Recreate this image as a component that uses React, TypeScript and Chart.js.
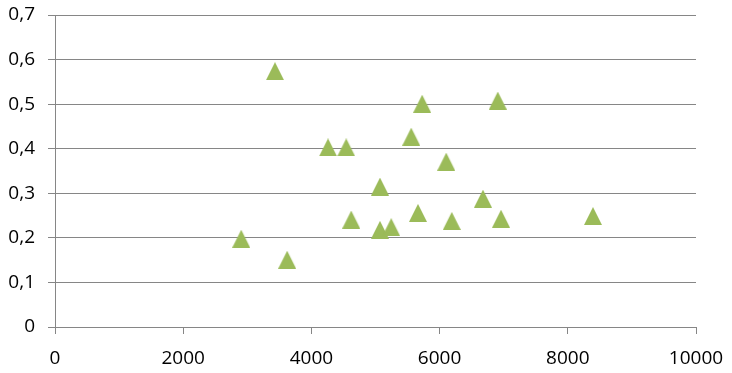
import React, { useEffect, useRef } from "react";
import { Chart, registerables } from "chart.js";

Chart.register(...registerables);

const xValues = [2905, 3432, 3622, 4259, 4543, 4621, 5070, 5070, 5245, 5557, 5663, 5728, 6103, 6190, 6677, 6908, 6958, 8393];
const yValues = [0.198, 0.574, 0.151, 0.403, 0.403, 0.241, 0.315, 0.218, 0.224, 0.427, 0.256, 0.501, 0.371, 0.238, 0.288, 0.508, 0.243, 0.249];
const xTickLabels = ["0", "2000", "4000", "6000", "8000", "10000"];
const yTickLabels = ["0", "0,1", "0,2", "0,3", "0,4", "0,5", "0,6", "0,7"];

const GREEN = "#9BBB59";
const GRID = "#868686";

function makeTriangle(): HTMLCanvasElement {
  const c = document.createElement("canvas");
  c.width = 18;
  c.height = 18;
  const ctx = c.getContext("2d")!;
  ctx.fillStyle = GREEN;
  ctx.beginPath();
  ctx.moveTo(9, 0);
  ctx.lineTo(18, 18);
  ctx.lineTo(0, 18);
  ctx.closePath();
  ctx.fill();
  return c;
}

export default function App() {
  const ref = useRef<HTMLCanvasElement | null>(null);

  useEffect(() => {
    document.body.style.margin = "0";
    const canvas = ref.current!;
    const tri = makeTriangle();
    const data = xValues.map((x, i) => ({ x, y: yValues[i] }));
    const font = { family: "'Open Sans', sans-serif", size: 19 };
    const chart = new Chart(canvas, {
      type: "scatter",
      data: {
        datasets: [
          {
            data,
            pointStyle: tri as any,
            pointRadius: 9,
            backgroundColor: GREEN,
            borderColor: GREEN,
          },
        ],
      },
      options: {
        animation: false,
        responsive: false,
        maintainAspectRatio: false,
        layout: { padding: { top: 15, right: 36, left: 0, bottom: 0 } },
        plugins: { legend: { display: false }, tooltip: { enabled: false } },
        scales: {
          x: {
            type: "linear",
            min: 0,
            max: 10000,
            afterFit: (s: any) => {
              s.height = 46;
              s.paddingLeft = 0;
              s.paddingRight = 0;
            },
            afterBuildTicks: (s: any) => {
              s.ticks = xTickLabels.map((_, i) => ({ value: i * 2000 }));
            },
            ticks: {
              color: "#000",
              font,
              padding: 13,
              maxRotation: 0,
              autoSkip: false,
              callback: (_v: any, i: number) => xTickLabels[i],
            },
            grid: {
              drawOnChartArea: false,
              drawTicks: true,
              tickLength: 7,
              color: GRID,
              lineWidth: 1,
            },
            border: { display: true, color: GRID, width: 1 },
          },
          y: {
            type: "linear",
            min: 0,
            max: 0.7,
            afterFit: (s: any) => {
              s.width = 55;
              s.paddingTop = 0;
              s.paddingBottom = 0;
            },
            afterBuildTicks: (s: any) => {
              s.ticks = yTickLabels.map((_, i) => ({ value: i / 10 }));
            },
            ticks: {
              color: "#000",
              font,
              padding: 13,
              autoSkip: false,
              callback: (_v: any, i: number) => yTickLabels[i],
            },
            grid: {
              drawOnChartArea: true,
              drawTicks: true,
              tickLength: 7,
              color: GRID,
              lineWidth: 1,
            },
            border: { display: true, color: GRID, width: 1 },
          },
        },
      },
    });
    return () => chart.destroy();
  }, []);

  return (
    <div style={{ position: "relative", width: 732, height: 373, background: "#fff" }}>
      <canvas ref={ref} width={732} height={373} style={{ display: "block", width: 732, height: 373 }} />
    </div>
  );
}
